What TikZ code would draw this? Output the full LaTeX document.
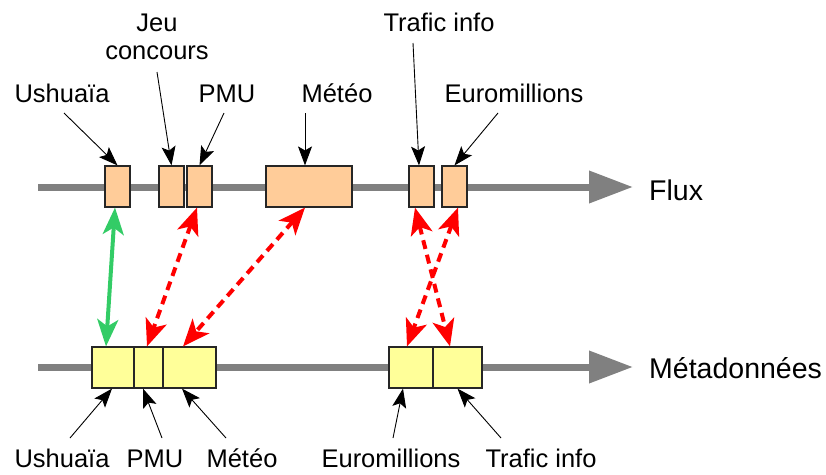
\documentclass[tikz,border=0pt]{standalone}
\usepackage{fontspec}
\setmainfont{Liberation Sans}
\usetikzlibrary{arrows.meta}
\definecolor{peach}{HTML}{FFCC99}
\definecolor{paleyel}{HTML}{FFFF99}
\definecolor{axisgray}{HTML}{808080}
\definecolor{linkred}{HTML}{FF0000}
\definecolor{linkgreen}{HTML}{33CC66}
\tikzset{
  lbl/.style={inner sep=0pt, font=\fontsize{25.5}{28}\selectfont},
  axlbl/.style={inner sep=0pt, font=\fontsize{28.5}{32}\selectfont, anchor=base west},
  segbox/.style={draw=black!85, line width=1.2pt, inner sep=0pt, minimum height=41pt},
  topbox/.style={segbox, fill=peach},
  botbox/.style={segbox, fill=paleyel},
  axisline/.style={draw=axisgray, line width=7pt, -{Triangle[length=44pt,width=31pt]}},
  pointer/.style={draw=black, line width=0.9pt, -{Stealth[length=19pt,width=14pt,inset=4pt]}},
  redlink/.style={draw=linkred, line width=4pt, dash pattern=on 9pt off 6pt,
     {Stealth[length=27pt,width=22pt,inset=7pt]}-{Stealth[length=27pt,width=22pt,inset=7pt]}},
  greenlink/.style={draw=linkgreen, line width=4pt,
     {Stealth[length=27pt,width=21pt,inset=7pt]}-{Stealth[length=27pt,width=21pt,inset=7pt]}}
}
\begin{document}
\begin{tikzpicture}[x=1pt,y=-1pt]
\useasboundingbox (0,0) rectangle (826,474);
% axes
\coordinate (a1s) at (38,187);
\coordinate (a1e) at (633,187);
\coordinate (a2s) at (38,367);
\coordinate (a2e) at (633,367);
\draw[axisline] (a1s) -- (a1e);
\draw[axisline] (a2s) -- (a2e);
\node[axlbl] (flux) at (649,200) {Flux};
\node[axlbl] (meta) at (649,378) {Métadonnées};
% top boxes
\node[topbox, minimum width=25pt] (uT) at (117.5,186.5) {};
\node[topbox, minimum width=25pt] (jT) at (171.5,186.5) {};
\node[topbox, minimum width=25pt] (pT) at (199.5,186.5) {};
\node[topbox, minimum width=86pt] (mT) at (309,186.5) {};
\node[topbox, minimum width=25pt] (tT) at (421.5,186.5) {};
\node[topbox, minimum width=25pt] (eT) at (454.5,186.5) {};
% bottom boxes
\node[botbox, minimum width=42pt] (uB) at (113,367.5) {};
\node[botbox, minimum width=29pt] (pB) at (148.5,367.5) {};
\node[botbox, minimum width=53pt] (mB) at (189.5,367.5) {};
\node[botbox, minimum width=44pt] (eB) at (411,367.5) {};
\node[botbox, minimum width=49pt] (tB) at (457.5,367.5) {};
% top labels
\node[lbl, anchor=base] (uTl) at (62,102) {Ushuaïa};
\node[lbl, anchor=south, align=center] (jTl) at (157,60) {Jeu\\concours};
\node[lbl, anchor=base] (pTl) at (227,102) {PMU};
\node[lbl, anchor=base] (mTl) at (337,102) {Météo};
\node[lbl, anchor=base] (tTl) at (439,31) {Trafic info};
\node[lbl, anchor=base] (eTl) at (514,102) {Euromillions};
% bottom labels
\node[lbl, anchor=base] (uBl) at (62,467) {Ushuaïa};
\node[lbl, anchor=base] (pBl) at (155,467) {PMU};
\node[lbl, anchor=base] (mBl) at (242,467) {Météo};
\node[lbl, anchor=base] (eBl) at (391,467) {Euromillions};
\node[lbl, anchor=base] (tBl) at (541,467) {Trafic info};
% top pointers
\draw[pointer] ([shift={(2,11)}]uTl.base) -- (uT.north);
\draw[pointer] ([shift={(0,12)}]jTl.south) -- (jT.north);
\draw[pointer] ([shift={(-3,11)}]pTl.base) -- (pT.north);
\draw[pointer] ([shift={(-32,11)}]mTl.base) -- ([shift={(-4,0)}]mT.north);
\draw[pointer] ([shift={(-26,12)}]tTl.base) -- ([shift={(-2.5,0)}]tT.north);
\draw[pointer] ([shift={(-16,11)}]eTl.base) -- (eT.north);
% bottom pointers
\draw[pointer] ([shift={(8,-29)}]uBl.base) -- ([shift={(-1,0)}]uB.south);
\draw[pointer] ([shift={(7,-29)}]pBl.base) -- ([shift={(-5.5,0)}]pB.south);
\draw[pointer] ([shift={(-16,-29)}]mBl.base) -- ([shift={(-7.5,0)}]mB.south);
\draw[pointer] ([shift={(2,-29)}]eBl.base) -- ([shift={(-8,0)}]eB.south);
\draw[pointer] ([shift={(-40,-29)}]tBl.base) -- (tB.south);
% links
\draw[greenlink] ([shift={(-2.5,0)}]uT.south) -- ([shift={(-7,0)}]uB.north);
\draw[redlink] ([shift={(-2.5,0)}]pT.south) -- ([shift={(-1.5,0)}]pB.north);
\draw[redlink] ([shift={(-4,0)}]mT.south) -- ([shift={(-6.5,0)}]mB.north);
\draw[redlink] ([shift={(-6.5,0)}]tT.south) -- ([shift={(-7.5,0)}]tB.north);
\draw[redlink] ([shift={(3.5,0)}]eT.south) -- ([shift={(-4,0)}]eB.north);
\end{tikzpicture}
\end{document}
